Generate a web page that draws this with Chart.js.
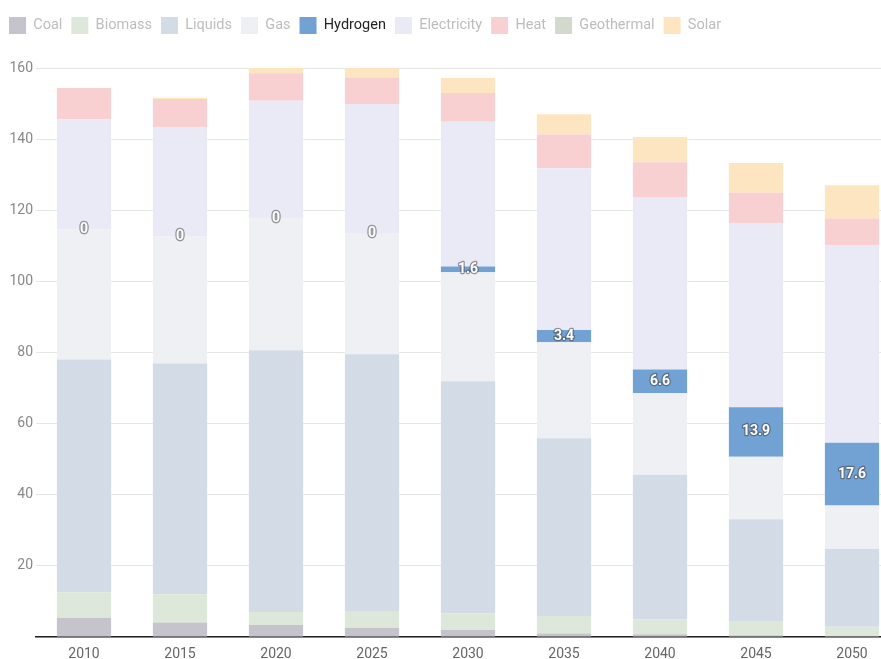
<!doctype html>
<html lang="en">
  <head>
    <meta charset="utf-8">
    <title>Final Energy Demand by Carrier</title>
    <script src="https://cdn.jsdelivr.net/npm/chart.js"></script>
    <style>
      body { margin: 0; overflow: hidden; background: #fff; }
      #wrap { width: 900px; height: 659px; }
    </style>
  </head>
  <body>
    <div id="wrap"><canvas id="energyChart" width="900" height="659"></canvas></div>
    <script>
      const years = ['2010', '2015', '2020', '2025', '2030', '2035', '2040', '2045', '2050'];

      const coal        = [5.4, 4.1, 3.4, 2.6, 2.0, 1.0, 0.8, 0.5, 0.3];
      const biomass     = [7.2, 7.9, 3.6, 4.5, 4.7, 4.9, 4.2, 4.0, 2.6];
      const liquids     = [65.4, 64.9, 73.6, 72.4, 65.2, 50.0, 40.6, 28.6, 21.9];
      const gas         = [36.6, 35.7, 37.1, 33.9, 30.7, 27.0, 23.0, 17.6, 12.2];
      const hydrogen    = [0, 0, 0, 0, 1.6, 3.4, 6.6, 13.9, 17.6];
      const electricity = [31.0, 30.8, 33.1, 36.5, 40.7, 45.5, 48.5, 51.7, 55.5];
      const heat        = [8.8, 7.9, 7.7, 7.4, 8.1, 9.5, 9.8, 8.6, 7.6];
      const geothermal  = [0, 0, 0, 0, 0, 0, 0, 0, 0];
      const solar       = [0, 0.3, 1.8, 3.0, 4.2, 5.7, 7.1, 8.4, 9.3];

      const yTicks = [20, 40, 60, 80, 100, 120, 140, 160];

      const series = [
        { label: 'Coal',        data: coal,        color: 'rgb(197,196,205)' },
        { label: 'Biomass',     data: biomass,     color: 'rgb(222,232,218)' },
        { label: 'Liquids',     data: liquids,     color: 'rgb(211,219,230)' },
        { label: 'Gas',         data: gas,         color: 'rgb(239,240,244)' },
        { label: 'Hydrogen',    data: hydrogen,    color: 'rgb(114,161,211)', active: true },
        { label: 'Electricity', data: electricity, color: 'rgb(234,234,246)' },
        { label: 'Heat',        data: heat,        color: 'rgb(248,208,209)' },
        { label: 'Geothermal',  data: geothermal,  color: 'rgb(211,217,205)' },
        { label: 'Solar',       data: solar,       color: 'rgb(254,229,194)' }
      ];

      // value labels for the highlighted series, centred in each segment
      const segmentLabels = {
        id: 'segmentLabels',
        afterDatasetsDraw(chart) {
          const ctx = chart.ctx;
          chart.data.datasets.forEach((ds, i) => {
            if (!ds.showValues) return;
            const meta = chart.getDatasetMeta(i);
            meta.data.forEach((bar, j) => {
              const y = (bar.y + bar.base) / 2;
              const text = String(ds.data[j]);
              ctx.save();
              ctx.font = 'bold 14px Roboto';
              ctx.textAlign = 'center';
              ctx.textBaseline = 'middle';
              ctx.lineJoin = 'round';
              ctx.lineWidth = 2.5;
              ctx.strokeStyle = 'rgba(70,70,70,0.55)';
              ctx.strokeText(text, bar.x, y);
              ctx.fillStyle = '#fff';
              ctx.fillText(text, bar.x, y);
              ctx.restore();
            });
          });
        }
      };

      // more room between the legend and the plot
      const legendGap = {
        id: 'legendGap',
        beforeInit(chart) {
          const fit = chart.legend.fit;
          chart.legend.fit = function () {
            fit.bind(chart.legend)();
            this.height += 24;
          };
        }
      };

      const ctx = document.getElementById('energyChart').getContext('2d');
      new Chart(ctx, {
        type: 'bar',
        data: {
          labels: years,
          datasets: series.map(s => ({
            label: s.label,
            data: s.data,
            backgroundColor: s.color,
            borderWidth: 0,
            showValues: !!s.active,
            categoryPercentage: 1,
            barPercentage: 0.565
          }))
        },
        plugins: [segmentLabels, legendGap],
        options: {
          responsive: false,
          animation: false,
          layout: { padding: { top: 8, left: 0, right: 0, bottom: 0 } },
          plugins: {
            tooltip: { enabled: false },
            legend: {
              align: 'start',
              labels: {
                font: { family: 'Roboto', size: 14.5 },
                boxWidth: 17,
                boxHeight: 17,
                padding: 9,
                generateLabels(chart) {
                  return chart.data.datasets.map((ds, i) => ({
                    text: ds.label,
                    fillStyle: ds.backgroundColor,
                    strokeStyle: ds.backgroundColor,
                    lineWidth: 0,
                    fontColor: series[i].active ? '#222' : '#bdbdbd',
                    hidden: false,
                    datasetIndex: i
                  }));
                }
              }
            }
          },
          scales: {
            x: {
              stacked: true,
              afterFit(scale) { scale.height = 22; },
              grid: { display: false, drawTicks: false },
              border: { display: true, color: '#222', width: 1.5 },
              ticks: { color: '#666', font: { family: 'Roboto', size: 14 }, padding: 9 }
            },
            y: {
              stacked: true,
              min: 0,
              max: 160,
              afterFit(scale) { scale.width = 36; },
              afterBuildTicks(scale) { scale.ticks = [0].concat(yTicks).map(v => ({ value: v })); },
              grid: { color: '#e6e6e6', drawTicks: false },
              border: { display: false },
              ticks: {
                color: '#888',
                font: { family: 'Roboto', size: 14 },
                padding: 3,
                callback: v => (v === 0 ? '' : v)
              }
            }
          }
        }
      });
    </script>
  </body>
</html>
